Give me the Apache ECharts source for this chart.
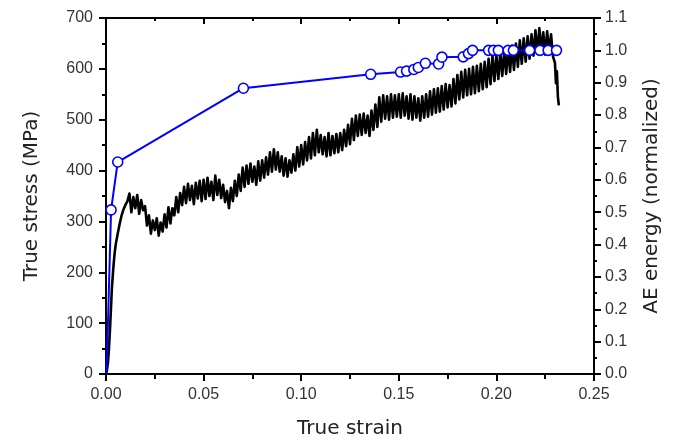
<!DOCTYPE html>
<html>
<head>
<meta charset="utf-8">
<script src="https://cdn.jsdelivr.net/npm/echarts@6/dist/echarts.min.js"></script>
<style>
html,body{margin:0;padding:0;background:#fff;}
#chart{width:680px;height:444px;}
</style>
</head>
<body>
<div id="chart"></div>
<script>
// Stress-strain curve (black)
const stressStrain = [
0,0.0005,0.001,0.0015,0.002,0.0025,0.003,0.0035,0.004,0.0045,0.005,0.006,0.007,0.008,0.009,0.010,0.011,
0.012,0.013,0.014,0.015,0.016,0.017,0.018,0.019,0.020,0.021,0.022,0.023,0.024,0.025,0.026,0.027,0.028,0.029,
0.030,0.031,0.032,0.033,0.034,0.035,0.036,0.037,0.038,0.039,0.040,0.041,0.042,0.043,0.044,0.045,0.046,0.047,0.048,0.049,
0.050,0.051,0.052,0.053,0.054,0.055,0.056,0.057,0.058,0.059,0.060,0.061,0.062,0.063,0.064,0.065,0.066,0.067,0.068,0.069,
0.070,0.071,0.072,0.073,0.074,0.075,0.076,0.077,0.078,0.079,0.080,0.081,0.082,0.083,0.084,0.085,0.086,0.087,0.088,0.089,
0.090,0.091,0.092,0.093,0.094,0.095,0.096,0.097,0.098,0.099,0.100,0.101,0.102,0.103,0.104,0.105,0.106,0.107,0.108,0.109,
0.110,0.111,0.112,0.113,0.114,0.115,0.116,0.117,0.118,0.119,0.120,0.121,0.122,0.123,0.124,0.125,0.126,0.127,0.128,0.129,
0.130,0.131,0.132,0.133,0.134,0.135,0.136,0.137,0.138,0.139,0.140,0.141,0.142,0.143,0.144,0.145,0.146,0.147,0.148,0.149,
0.150,0.151,0.152,0.153,0.154,0.155,0.156,0.157,0.158,0.159,0.160,0.161,0.162,0.163,0.164,0.165,0.166,0.167,0.168,0.169,
0.170,0.171,0.172,0.173,0.174,0.175,0.176,0.177,0.178,0.179,0.180,0.181,0.182,0.183,0.184,0.185,0.186,0.187,0.188,0.189,
0.190,0.191,0.192,0.193,0.194,0.195,0.196,0.197,0.198,0.199,0.200,0.201,0.202,0.203,0.204,0.205,0.206,0.207,0.208,0.209,
0.210,0.211,0.212,0.213,0.214,0.215,0.216,0.217,0.218,0.219,0.220,0.221,0.222,0.223,0.224,0.225,0.226,0.227,0.228,0.229,
0.230,0.2305,0.231,0.2315,0.232
];
const stressValues = [
0,8,22,50,84,125,168,195,220,240,255,276,295,312,324,333,340,
355,318,348,326,352,315,342,322,330,292,312,276,302,283,306,272,298,280,
314,288,328,296,326,312,348,318,356,332,368,336,374,342,370,334,376,345,380,340,
382,344,386,350,378,342,390,352,382,346,372,338,360,326,366,340,380,350,392,360,
406,368,410,374,414,378,408,372,418,380,420,386,426,392,436,398,442,402,436,398,
428,390,424,388,420,396,432,400,446,408,450,412,456,420,466,424,474,430,480,436,
470,432,466,428,474,430,468,434,472,436,474,440,480,448,490,452,502,460,508,468,
510,470,512,474,508,468,518,480,530,486,544,496,548,502,546,500,550,504,548,506,
550,504,552,508,546,502,550,500,546,504,542,498,546,504,550,506,556,510,560,514,
562,516,566,520,570,524,568,526,580,532,588,540,594,544,598,548,600,550,604,552,
606,556,610,560,614,564,620,570,626,576,628,580,632,586,636,590,640,594,646,598,
650,604,656,610,660,614,664,620,668,626,676,630,680,634,672,628,674,632,668,624,
612,572,595,545,528
];
// AE energy (blue)
const aeStrain = [0.0003,0.0026,0.006,0.0704,0.1356,0.1509,0.154,0.1577,0.160,0.1636,0.1704,0.1721,0.183,0.1857,0.1878,0.196,0.1985,0.201,0.206,0.2087,0.217,0.2223,0.2265,0.2308];
const aeEnergy = [0.0,0.507,0.655,0.883,0.926,0.933,0.936,0.941,0.947,0.960,0.958,0.979,0.980,0.990,1.0,1.0,1.0,1.0,1.0,1.0,1.0,1.0,1.0,1.0];

const xTicks = ['0.00','0.05','0.10','0.15','0.20','0.25'];

const stressData = stressStrain.map((s,i)=>[s,stressValues[i]]);
const aeData = aeStrain.map((s,i)=> i===0 ? {value:[s,aeEnergy[i]], symbol:'none'} : [s,aeEnergy[i]]);

const labelFont = {fontFamily:'Liberation Sans, Arial, sans-serif', fontSize:16, color:'#333'};
const nameFont = {fontFamily:'DejaVu Sans, sans-serif', fontSize:20, color:'#222'};
const axLine = {show:true, onZero:false, lineStyle:{color:'#000', width:2}};

const chart = echarts.init(document.getElementById('chart'), null, {renderer:'canvas'});
chart.setOption({
  animation:false,
  backgroundColor:'#fff',
  grid:{left:106, right:86, top:18, bottom:68, containLabel:false},
  xAxis:[
    {type:'value', position:'bottom', min:0, max:0.25, interval:0.05,
     name:'True strain', nameLocation:'middle', nameGap:45, nameTextStyle:nameFont,
     axisLine:axLine,
     axisTick:{show:true, inside:false, length:7, lineStyle:{color:'#000', width:2}},
     minorTick:{show:true, splitNumber:2, length:5, lineStyle:{color:'#000', width:2}},
     axisLabel:Object.assign({margin:13, formatter:(v)=>xTicks[Math.round(v/0.05)]}, labelFont),
     splitLine:{show:false}},
    {type:'value', position:'top', min:0, max:0.25, interval:0.05,
     axisLine:axLine,
     axisTick:{show:true, inside:true, length:6, lineStyle:{color:'#000', width:2}},
     minorTick:{show:true, splitNumber:2, length:3, lineStyle:{color:'#000', width:2}},
     axisLabel:{show:false}, splitLine:{show:false}}
  ],
  yAxis:[
    {type:'value', position:'left', min:0, max:700, interval:100,
     name:'True stress (MPa)', nameLocation:'middle', nameGap:64, nameTextStyle:nameFont,
     axisLine:axLine,
     axisTick:{show:true, inside:false, length:7, lineStyle:{color:'#000', width:2}},
     minorTick:{show:true, splitNumber:2, length:4, lineStyle:{color:'#000', width:2}},
     axisLabel:Object.assign({margin:13}, labelFont),
     splitLine:{show:false}},
    {type:'value', position:'right', min:0, max:1.1, interval:0.1,
     name:'AE energy (normalized)', nameLocation:'middle', nameGap:48, nameTextStyle:nameFont,
     axisLine:axLine,
     axisTick:{show:true, inside:false, length:7, lineStyle:{color:'#000', width:2}},
     minorTick:{show:true, splitNumber:2, length:3, lineStyle:{color:'#000', width:2}},
     axisLabel:Object.assign({margin:11, formatter:(v)=>v.toFixed(1)}, labelFont),
     splitLine:{show:false}}
  ],
  series:[
    {type:'line', name:'stress', xAxisIndex:0, yAxisIndex:0, data:stressData,
     showSymbol:false, symbol:'none', lineStyle:{color:'#000', width:2.6, join:'round'}, z:2},
    {type:'line', name:'AE', xAxisIndex:0, yAxisIndex:1, data:aeData,
     symbol:'circle', symbolSize:10, showAllSymbol:true,
     itemStyle:{color:'#fff', borderColor:'#0000ff', borderWidth:1.6},
     lineStyle:{color:'#0000ff', width:2}, z:3}
  ]
});
</script>
</body>
</html>
